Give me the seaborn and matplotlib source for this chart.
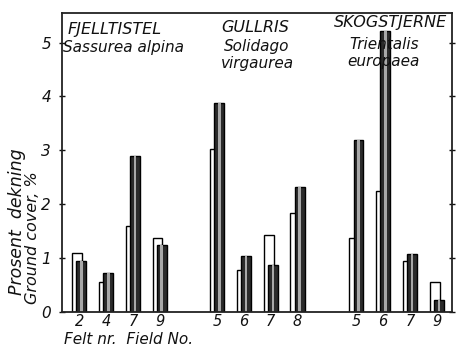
import numpy as np
import pandas as pd
import matplotlib
matplotlib.use("Agg")
import matplotlib.pyplot as plt
import seaborn as sns

# Data (ground cover, %)
groups = ["FJELLTISTEL", "GULLRIS", "SKOGSTJERNE"]
latin = ["Sassurea alpina", "Solidago\nvirgaurea", "Trientalis\neuropaea"]
fields = [[2, 4, 7, 9], [5, 6, 7, 8], [5, 6, 7, 9]]
open_vals = [[1.10, 0.55, 1.60, 1.37], [3.02, 0.78, 1.43, 1.83], [1.38, 2.25, 0.95, 0.55]]
dark_vals = [[0.95, 0.72, 2.90, 1.25], [3.87, 1.05, 0.88, 2.32], [3.20, 5.22, 1.07, 0.23]]

group_start = [0.0, 5.15, 10.35]
rows = []
for g in range(3):
    for i, f in enumerate(fields[g]):
        rows.append({"group": groups[g], "field": f, "pos": group_start[g] + i,
                     "open": open_vals[g][i], "dark": dark_vals[g][i]})
df = pd.DataFrame(rows)
df["pos_dark"] = df["pos"] + 0.16

sns.set_style("white")
plt.rcParams["font.family"] = ["DejaVu Sans"]
plt.rcParams["text.color"] = "#111111"
plt.rcParams["xtick.color"] = "#111111"
plt.rcParams["ytick.color"] = "#111111"

fig = plt.figure(figsize=(4.57, 3.48), dpi=100)
ax = fig.add_axes([0.136, 0.103, 0.853, 0.860])

bw = 0.37
sns.barplot(data=df, x="pos", y="open", native_scale=True, width=bw, color="white",
            saturation=1, edgecolor="black", linewidth=1.0, errorbar=None, ax=ax)
sns.barplot(data=df, x="pos_dark", y="dark", native_scale=True, width=bw, color="#2b2b2b",
            saturation=1, edgecolor="black", linewidth=1.0, errorbar=None, ax=ax)
sns.barplot(data=df, x="pos_dark", y="dark", native_scale=True, width=0.1, color="#a8a8a8",
            saturation=1, linewidth=0, errorbar=None, ax=ax)

ax.set_xlim(-0.56, 14.0)
ax.set_ylim(0, 5.55)
ax.set_xticks(df["pos"] + 0.08)
ax.set_xticklabels(df["field"], fontsize=10.5, fontstyle="italic")
ax.set_yticks(range(6))
ax.set_yticklabels([str(v) for v in range(6)], fontsize=11, fontstyle="italic")
ax.tick_params(axis="x", length=0, pad=1.5)
ax.tick_params(axis="y", left=True, right=True, direction="inout", length=4, width=1, pad=6)
ax.set_xlabel("")
ax.set_ylabel("")
for s in ax.spines.values():
    s.set_visible(True)
    s.set_color("#222222")
    s.set_linewidth(1.3)

# group labels
ax.text(-0.36, 5.25, groups[0], fontsize=11.5, fontstyle="italic", ha="left", va="center")
ax.text(-0.52, 4.90, latin[0], fontsize=11, fontstyle="italic", ha="left", va="center")
ax.text(6.65, 5.27, groups[1], fontsize=11.5, fontstyle="italic", ha="center", va="center")
ax.text(6.72, 4.77, latin[1], fontsize=11, fontstyle="italic", ha="center", va="center",
        linespacing=1.15)
ax.text(11.69, 5.38, groups[2], fontsize=11.5, fontstyle="italic", ha="center", va="center")
ax.text(11.46, 4.80, latin[2], fontsize=11, fontstyle="italic", ha="center", va="center",
        linespacing=1.15, zorder=1)

fig.text(17 / 457, 1 - 222 / 348, "Prosent  dekning", rotation=90, fontsize=12.5,
         fontstyle="italic", ha="center", va="center")
fig.text(33 / 457, 1 - 238 / 348, "Ground cover, %", rotation=90, fontsize=11.5,
         fontstyle="italic", ha="center", va="center")
fig.text(64 / 457, 1 - 340 / 348, "Felt nr.  Field No.", fontsize=11, fontstyle="italic",
         ha="left", va="center")

fig.savefig("out.png", dpi=100)
